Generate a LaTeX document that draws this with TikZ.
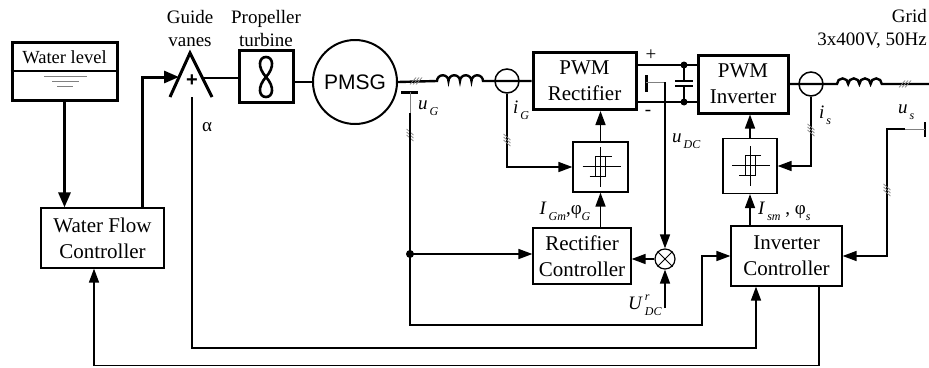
\documentclass[tikz,border=0pt]{standalone}
\usepackage{fontspec}
\setmainfont{Liberation Serif}
\newfontfamily\arial{Liberation Sans}
\usetikzlibrary{positioning,arrows.meta}

\newcommand\vsub[2]{\textit{#1}\raisebox{-0.3em}{\fontsize{12}{12}\selectfont\itshape\,#2}}
\newcommand\vsubsup[3]{\textit{#1}\rlap{\raisebox{0.5em}{\fontsize{12}{12}\selectfont\itshape\,#3}}\raisebox{-0.3em}{\fontsize{12}{12}\selectfont\itshape\,#2}}

\begin{document}
\begin{tikzpicture}[x=1pt,y=-1pt,
  blk/.style={draw,line width=1.2pt,align=center,inner sep=0pt,font=\fontsize{21}{26}\selectfont},
  pwr/.style={blk,line width=3pt},
  lbl/.style={inner sep=0pt,font=\fontsize{19}{23}\selectfont},
  sig/.style={line width=1.6pt,-{Triangle[length=14pt,width=10pt]}},
  bus/.style={line width=2.4pt},
  meas/.style={line width=0.8pt,gray},
  hatch/.pic={\foreach \d in {-3,0,3} \draw[line width=0.7pt,gray] (\d-3,3.5) -- (\d+3,-3.5);},
  hyst/.pic={\draw[line width=0.9pt] (-18,-1) -- (20,-1) (0,-20) -- (0,20)
    (-11,9) -- (5,9) -- (5,-11) (11,-11) -- (-5,-11) -- (-5,9);}]
  \useasboundingbox (0,0) rectangle (929,367);

  % water side
  \node[pwr,minimum width=105,minimum height=58] (wl) at (64.5,71) {};
  \draw[line width=2.6pt] (wl.west) -- (wl.east);
  \node[lbl,font=\fontsize{18.5}{20}\selectfont] (wltxt) at (64.5,57) {Water level};
  \draw[meas] (44,76) -- (87,76) (52,81) -- (79,81) (57,86) -- (73,86);
  \node[blk,minimum width=123,minimum height=60] (wfc) at (102.5,238) {Water Flow\\Controller};
  \draw[sig,line width=3pt,-{Triangle[length=15pt,width=12pt]}] (wl.south) -- (wl.south |- wfc.north);

  % guide vanes and turbine
  \coordinate (gv) at (190,53);
  \draw[line width=3pt] (170,97) -- (gv) -- (212,97);
  \node[font=\arial\bfseries\fontsize{20}{20}\selectfont,inner sep=0pt] (plus) at (192,81) {+};
  \node[lbl,align=center] (gvtxt) at (190,28) {Guide\\vanes};
  \coordinate (gvin) at (179,77);
  \coordinate (wfcup) at (142,207);
  \draw[sig,line width=3pt,-{Triangle[length=15pt,width=12pt]}] (wfcup) |- (gvin);
  \coordinate (gvout) at (203,78);
  \node[pwr,minimum width=54,minimum height=52] (tb) at (266,76) {};
  \draw[line width=2.6pt] (266,77) .. controls (257,67) and (259,57) .. (266,57)
    .. controls (273,57) and (275,67) .. (266,77) .. controls (257,87) and (259,97) .. (266,97)
    .. controls (273,97) and (275,87) .. (266,77);
  \node[lbl,align=center] (tbtxt) at (266,28) {Propeller\\turbine};
  \draw[bus] (gvout) -- (tb.west |- gvout);
  \node[lbl] (alpha) at (207,127) {α};

  % generator side
  \node[circle,draw,line width=2pt,minimum size=84,inner sep=0pt,font=\arial\fontsize{21}{21}\selectfont] (pmsg) at (355,82) {PMSG};
  \draw[bus] (tb.east |- pmsg) -- (pmsg.west);
  \coordinate (lg1) at (437,81);
  \node[pwr,minimum width=103,minimum height=57] (rect) at (584.5,81) {PWM\\Rectifier};
  \draw[bus] (pmsg.east) -- (lg1) arc[start angle=180,end angle=360,radius=5.75]
    arc[start angle=180,end angle=360,radius=5.75] arc[start angle=180,end angle=360,radius=5.75]
    arc[start angle=180,end angle=360,radius=5.75] -- (rect.west);
  \node[circle,draw,line width=1.5pt,minimum size=24,inner sep=0pt] (ig) at (507,81) {};
  \pic at (416,81) {hatch};

  % u_G
  \draw[line width=3pt] (401,92) -- (418,92);
  \coordinate (ugm) at (410,92);
  \coordinate (ugtop) at (410,113);
  \coordinate (ugj) at (410,254);
  \coordinate (ugb) at (410,325);
  \coordinate (ugc) at (702,325);
  \draw[meas] (ugm) -- (ugtop);
  \pic[rotate=90] at (410,135) {hatch};
  \node[lbl,anchor=west] (ugtxt) at (418,108) {\vsub{u}{G}};

  % controllers
  \node[blk,minimum width=98,minimum height=56] (rc) at (582,256) {Rectifier\\Controller};
  \node[blk,minimum width=111,minimum height=60] (ic) at (786.5,256) {Inverter\\Controller};
  \draw[sig] (ugj) -- (ugj -| rc.west);
  \draw[sig] (ugtop) -- (ugb) -- (ugc) |- (ic.west);
  \fill (ugj) circle (4);

  % rectifier hysteresis
  \node[draw,line width=1.2pt,minimum width=55,minimum height=50] (hr) at (600.5,167) {};
  \pic at (hr) {hyst};
  \draw[sig] (hr.north) -- (hr.north |- rect.south);
  \draw[sig] (hr.south |- rc.north) -- (hr.south);
  \draw[sig] (ig.south) |- (hr.west);
  \pic[rotate=90] at (507,140) {hatch};
  \node[lbl,anchor=west] (igtxt) at (513,110) {\vsub{i}{G}};
  \node[lbl] (igmtxt) at (565,211) {\vsub{I}{Gm},φ\raisebox{-0.3em}{\fontsize{12}{12}\selectfont\itshape G}};

  % dc link
  \node[pwr,minimum width=90,minimum height=58] (inv) at (743,84) {PWM\\Inverter};
  \coordinate (cp) at (684,65);
  \coordinate (cn) at (684,102);
  \draw[bus] (rect.east |- cp) -- (inv.west |- cp);
  \draw[bus] (rect.east |- cn) -- (inv.west |- cn);
  \draw[bus] (cp) -- (684,81) (675,81) -- (693,81) (675,86) -- (693,86) (684,86) -- (cn);
  \fill (cp) circle (3.5) (cn) circle (3.5);
  \node[lbl] (pls) at (651,55) {+};
  \node[lbl] (mns) at (648,113) {-};
  \draw[line width=3pt] (646,75) -- (646,92);
  \coordinate (udc) at (665,82);
  \draw[meas] (646,82) -- (udc);
  \node[lbl,anchor=west] (udctxt) at (672,141) {\vsub{u}{DC}};
  \node[circle,draw,line width=1.2pt,minimum size=20,inner sep=0pt] (mul) at (665,259) {};
  \draw[line width=1pt] (mul.north west) -- (mul.south east) (mul.north east) -- (mul.south west);
  \draw[sig] (udc) -- (mul.north);
  \draw[sig] (mul.west) -- (mul.west -| rc.east);
  \coordinate (udcr) at (665,308);
  \draw[sig] (udcr) -- (mul.south);
  \node[lbl,anchor=west] (udcrtxt) at (628,305) {\vsubsup{U}{DC}{r}};

  % grid side
  \node[circle,draw,line width=1.5pt,minimum size=24,inner sep=0pt] (is) at (811,84) {};
  \coordinate (lg3) at (837,84);
  \coordinate (grid) at (929,84);
  \draw[bus] (inv.east) -- (lg3) arc[start angle=180,end angle=360,radius=5.6]
    arc[start angle=180,end angle=360,radius=5.6] arc[start angle=180,end angle=360,radius=5.6]
    arc[start angle=180,end angle=360,radius=5.6] -- (grid);
  \pic at (905,84) {hatch};
  \node[lbl,align=right,anchor=east] (gridtxt) at (927,29) {Grid\\3x400V, 50Hz};
  \node[draw,line width=1.2pt,minimum width=54,minimum height=55] (hi) at (750,166) {};
  \pic at (hi) {hyst};
  \draw[sig] (hi.north) -- (hi.north |- inv.south);
  \draw[sig] (hi.south |- ic.north) -- (hi.south);
  \draw[sig] (is.south) |- (hi.east);
  \pic[rotate=90] at (811,130) {hatch};
  \node[lbl,anchor=west] (istxt) at (819,115) {\vsub{i}{s}};
  \node[lbl,anchor=west] (ismtxt) at (758,211) {\vsub{I}{sm} , φ\raisebox{-0.3em}{\fontsize{12}{12}\selectfont\itshape s}};

  % u_s
  \draw[line width=2pt] (925,122) -- (925,137);
  \coordinate (us) at (925,129);
  \coordinate (usm) at (905,129);
  \coordinate (usc) at (887,129);
  \draw[meas] (us) -- (usm);
  \draw[sig] (usm) -- (usc) |- (ic.east);
  \pic[rotate=90] at (887,190) {hatch};
  \node[lbl,anchor=west] (ustxt) at (898,112) {\vsub{u}{s}};

  % feedback loops
  \coordinate (alpha0) at (192,97);
  \coordinate (al1) at (756,348);
  \draw[sig] (alpha0) |- (al1) -- (al1 |- ic.south);
  \coordinate (fb1) at (819,365.5);
  \coordinate (fb2) at (94,365.5);
  \draw[sig] (fb1 |- ic.south) -- (fb1) -- (fb2) -- (fb2 |- wfc.south);
\end{tikzpicture}
\end{document}
